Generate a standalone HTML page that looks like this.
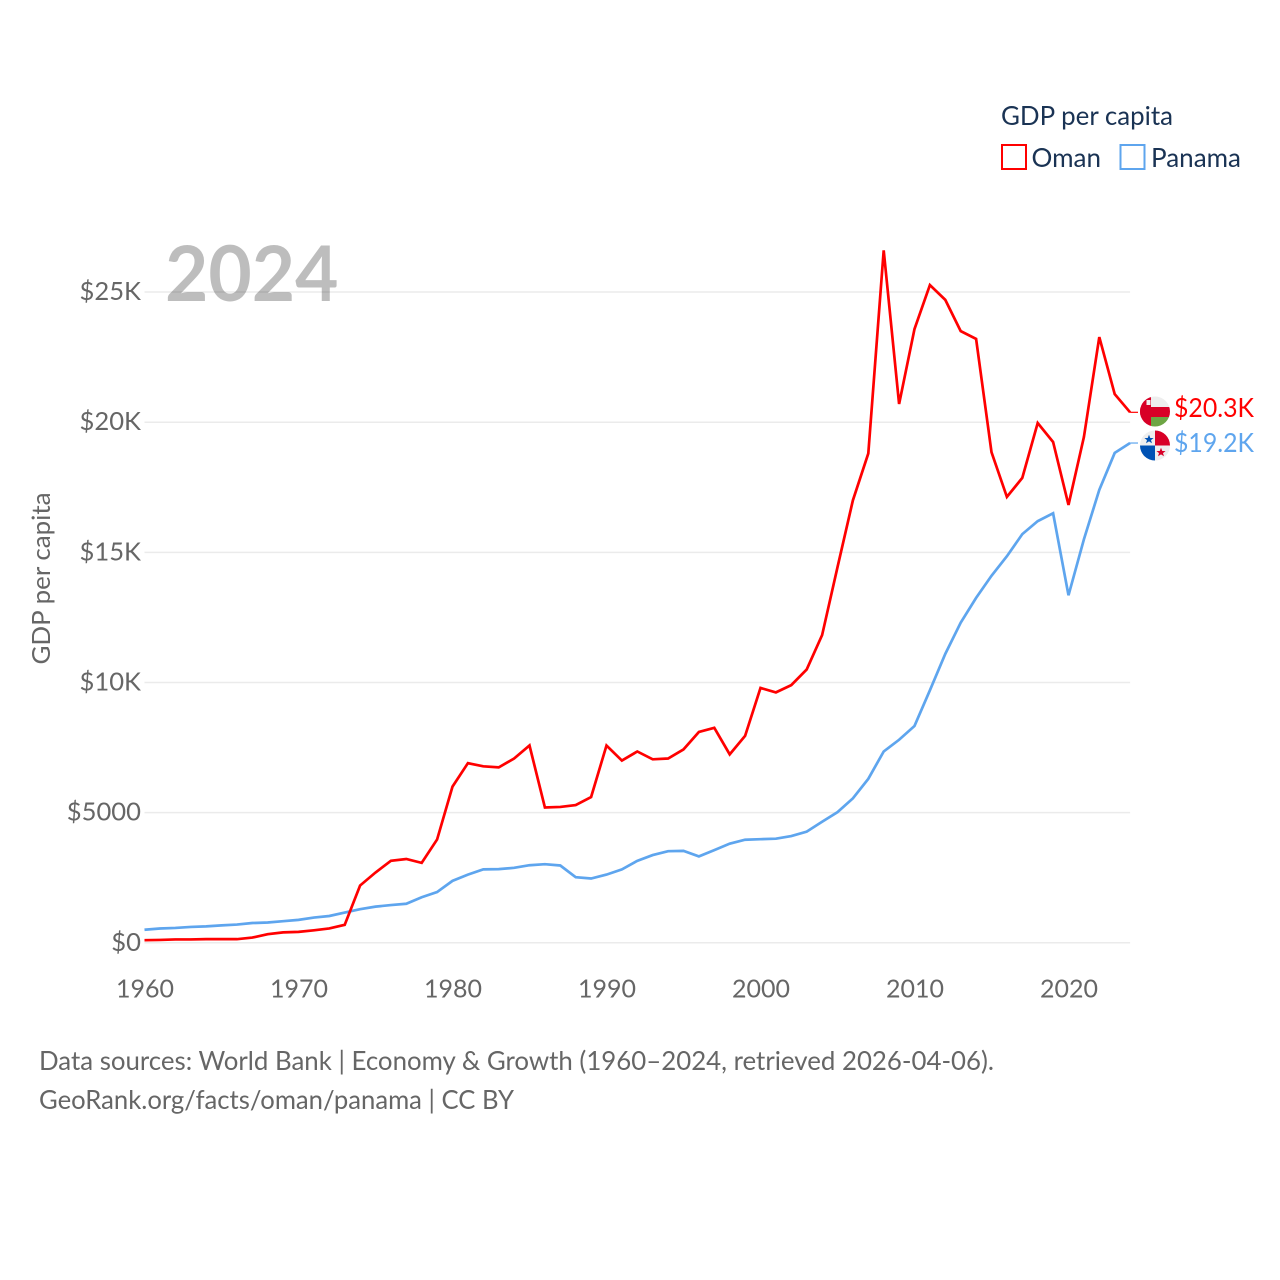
<!DOCTYPE html>
<html lang="en">
<head>
<meta charset="utf-8">
<title>GDP per capita: Oman and Panama</title>
<style>
html,body{margin:0;padding:0;background:#fff;}
svg{display:block;}
text{font-family:"Lato","Carlito","Liberation Sans",sans-serif;}
</style>
</head>
<body>
<svg id="chart" xmlns="http://www.w3.org/2000/svg" width="1280" height="1280" viewBox="0 0 1280 1280">
  <defs>
    <clipPath id="clip-oman"><circle cx="1155" cy="411.5" r="15"></circle></clipPath>
    <clipPath id="clip-panama"><circle cx="1155" cy="445.5" r="15"></circle></clipPath>
  </defs>
  <g id="grid"></g>
  <g id="yticks"></g>
  <g id="xticks"></g>
  <text x="165" y="301" font-size="77" font-weight="700" fill="#000000" fill-opacity="0.26" textLength="173.5" lengthAdjust="spacingAndGlyphs">2024</text>
  <text transform="translate(50,578.5) rotate(-90)" text-anchor="middle" font-size="25" fill="#666666" textLength="172" lengthAdjust="spacingAndGlyphs">GDP per capita</text>
  <path id="line-panama" fill="none" stroke="#5ea5ee" stroke-width="2.7" stroke-linejoin="miter"></path>
  <path id="line-oman" fill="none" stroke="#ff0000" stroke-width="2.7" stroke-linejoin="miter"></path>
  <line id="connector-oman" x2="1138" stroke="#ff0000" stroke-width="1.2"></line>
  <line id="connector-panama" x2="1138" stroke="#5ea5ee" stroke-width="1.2"></line>

  <g clip-path="url(#clip-oman)">
    <rect x="1140" y="396.5" width="30" height="30" fill="#eeeeee"></rect>
    <rect x="1140" y="407" width="30" height="10" fill="#d80027"></rect>
    <rect x="1151" y="417" width="19" height="10" fill="#6da544"></rect>
    <rect x="1140" y="396.5" width="11" height="30" fill="#d80027"></rect>
    <rect x="1146.5" y="400" width="4" height="5" fill="#eeeeee"></rect>
  </g>
  <g clip-path="url(#clip-panama)">
    <rect x="1140" y="430.5" width="30" height="30" fill="#eeeeee"></rect>
    <rect x="1155" y="430.5" width="15" height="15" fill="#d80027"></rect>
    <rect x="1140" y="445.5" width="15" height="15" fill="#0052b4"></rect>
    <polygon points="1149,434.8 1150.3,438 1153.6,438 1151,440.1 1152,443.2 1149,441.4 1146,443.2 1147,440.1 1144.4,438 1147.7,438" fill="#0052b4"></polygon>
    <polygon points="1161,447.8 1162.3,451 1165.6,451 1163,453.1 1164,456.2 1161,454.4 1158,456.2 1159,453.1 1156.4,451 1159.7,451" fill="#d80027"></polygon>
  </g>

  <text x="1174" y="417" font-size="26" fill="#ff0000" textLength="80" lengthAdjust="spacingAndGlyphs">$20.3K</text>
  <text x="1174" y="452" font-size="26" fill="#5ea5ee" textLength="80" lengthAdjust="spacingAndGlyphs">$19.2K</text>

  <g>
    <text x="1001" y="125" font-size="26" fill="#1a3354" textLength="172" lengthAdjust="spacingAndGlyphs">GDP per capita</text>
    <rect x="1002" y="145" width="24" height="24" fill="none" stroke="#ff0000" stroke-width="2"></rect>
    <text x="1031.5" y="167" font-size="26" fill="#1a3354" textLength="69.5" lengthAdjust="spacingAndGlyphs">Oman</text>
    <rect x="1120.5" y="145" width="24" height="24" fill="none" stroke="#5ea5ee" stroke-width="2"></rect>
    <text x="1151" y="167" font-size="26" fill="#1a3354" textLength="90" lengthAdjust="spacingAndGlyphs">Panama</text>
  </g>

  <text x="39" y="1070" font-size="26" fill="#666666" textLength="955" lengthAdjust="spacingAndGlyphs">Data sources: World Bank | Economy &amp; Growth (1960–2024, retrieved 2026-04-06).</text>
  <text x="39" y="1109" font-size="26" fill="#666666" textLength="475" lengthAdjust="spacingAndGlyphs">GeoRank.org/facts/oman/panama | CC BY</text>
</svg>
<script>
const years = [1960,1961,1962,1963,1964,1965,1966,1967,1968,1969,1970,1971,1972,1973,1974,1975,1976,1977,1978,1979,1980,1981,1982,1983,1984,1985,1986,1987,1988,1989,1990,1991,1992,1993,1994,1995,1996,1997,1998,1999,2000,2001,2002,2003,2004,2005,2006,2007,2008,2009,2010,2011,2012,2013,2014,2015,2016,2017,2018,2019,2020,2021,2022,2023,2024];
const omanValues = [0.10,0.11,0.13,0.13,0.14,0.14,0.14,0.20,0.33,0.40,0.42,0.48,0.55,0.69,2.20,2.70,3.15,3.22,3.07,3.97,6.00,6.90,6.78,6.74,7.08,7.58,5.20,5.22,5.29,5.60,7.58,7.00,7.35,7.05,7.08,7.43,8.10,8.26,7.24,7.95,9.79,9.62,9.90,10.50,11.82,14.43,17.00,18.80,26.60,20.70,23.58,25.27,24.70,23.50,23.20,18.85,17.13,17.86,19.97,19.24,16.82,19.43,23.27,21.08,20.38];
const panamaValues = [0.50,0.55,0.57,0.61,0.63,0.67,0.70,0.76,0.78,0.83,0.88,0.97,1.03,1.16,1.29,1.39,1.45,1.50,1.75,1.95,2.38,2.62,2.82,2.83,2.88,2.98,3.02,2.97,2.52,2.47,2.62,2.82,3.15,3.37,3.52,3.53,3.32,3.56,3.81,3.96,3.98,4.00,4.10,4.27,4.65,5.02,5.55,6.30,7.35,7.80,8.33,9.70,11.10,12.30,13.25,14.10,14.85,15.70,16.20,16.50,13.35,15.50,17.40,18.82,19.20];
const yTickValues = [0,5,10,15,20,25];
const yTickLabels = ['$0','$5000','$10K','$15K','$20K','$25K'];
const xTickYears = [1960,1970,1980,1990,2000,2010,2020];

const SVG_NS = 'http://www.w3.org/2000/svg';
function xScale(year){ return 144.5 + (year - 1960) * 15.4; }
function yScale(value){ return 942.8 - value * 26.03; }
function linePath(values){
  return values.map(function(v,i){
    return (i ? 'L' : 'M') + xScale(years[i]).toFixed(2) + ' ' + yScale(v).toFixed(2);
  }).join(' ');
}

document.getElementById('line-oman').setAttribute('d', linePath(omanValues));
document.getElementById('line-panama').setAttribute('d', linePath(panamaValues));

const lastIndex = years.length - 1;
[['connector-oman', omanValues], ['connector-panama', panamaValues]].forEach(function(pair){
  const c = document.getElementById(pair[0]);
  const y = yScale(pair[1][lastIndex]);
  c.setAttribute('x1', xScale(years[lastIndex]));
  c.setAttribute('y1', y);
  c.setAttribute('y2', y);
});

const gridGroup = document.getElementById('grid');
const yGroup = document.getElementById('yticks');
yTickValues.forEach(function(v,i){
  const g = document.createElementNS(SVG_NS,'line');
  
  
  g.setAttribute('x1', xScale(1960));
  g.setAttribute('x2', xScale(2024));
  g.setAttribute('y1', yScale(v));
  g.setAttribute('y2', yScale(v));
  g.setAttribute('stroke', '#ebebeb');
  g.setAttribute('stroke-width', '1.5');
  gridGroup.appendChild(g);

  const t = document.createElementNS(SVG_NS,'text');
  
  
  t.setAttribute('x', 141);
  t.setAttribute('y', yScale(v) + 8);
  t.setAttribute('text-anchor', 'end');
  t.setAttribute('font-size', '25.6');
  t.setAttribute('fill', '#666666');
  t.textContent = yTickLabels[i];
  yGroup.appendChild(t);
});

const xGroup = document.getElementById('xticks');
xTickYears.forEach(function(year){
  const t = document.createElementNS(SVG_NS,'text');
  
  
  t.setAttribute('x', xScale(year) + 0.5);
  t.setAttribute('y', 997.5);
  t.setAttribute('text-anchor', 'middle');
  t.setAttribute('font-size', '25');
  t.setAttribute('fill', '#666666');
  t.textContent = year;
  xGroup.appendChild(t);
});
</script>
</body>
</html>
